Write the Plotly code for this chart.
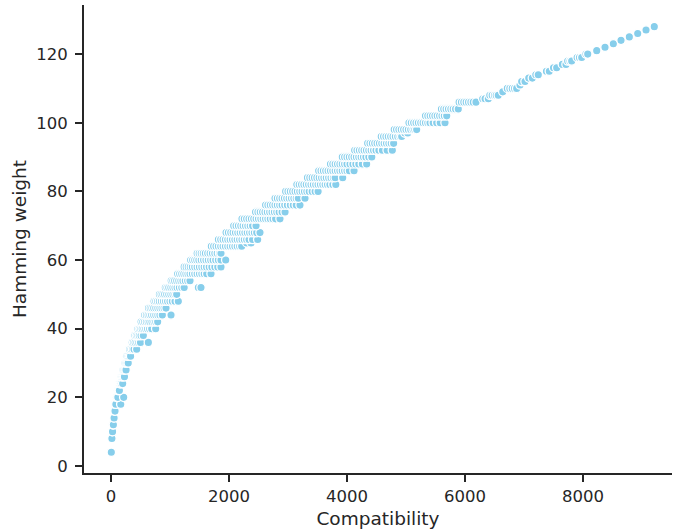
import plotly.graph_objects as go

# Hamming weight of each group of points
weights = [4, 8, 10, 12, 14, 16, 18, 20, 22, 24, 26, 28, 30, 32, 34, 36, 38, 40, 42, 44,
           46, 48, 50, 52, 54, 56, 58, 60, 62, 64, 65, 66, 68, 70, 72, 74, 76, 78, 80, 82,
           84, 86, 88, 90, 92, 94, 96, 97, 98, 100, 102, 104, 106, 107, 108, 109, 110, 111,
           112, 113, 114, 115, 116, 117, 118, 119, 120, 121, 122, 123, 124, 125, 126, 127, 128]

# Compatibility values observed for each weight (same order as `weights`)
compat_by_weight = [
    [5],
    [8, 15],
    [18, 26],
    [32, 40],
    [44, 52],
    [58, 68],
    [72, 82, 165],
    [92, 104, 116, 215],
    [118, 130, 142],
    [145, 160, 175, 198],
    [175, 192, 210, 228],
    [205, 222, 240, 255],
    [238, 256, 274, 292],
    [272, 292, 312, 332],
    [315, 340, 365, 390, 435],
    [360, 385, 410, 440, 470, 500, 633],
    [405, 430, 455, 480, 510, 548],
    [455, 480, 505, 530, 560, 590, 620, 655, 690, 757],
    [510, 540, 570, 600, 630, 660, 695, 730, 760, 791],
    [570, 600, 630, 660, 690, 725, 760, 795, 830, 870, 1017],
    [635, 665, 695, 725, 760, 795, 830, 865, 900, 932],
    [730, 760, 790, 820, 855, 890, 925, 960, 1000, 1040, 1085, 1141],
    [820, 850, 880, 910, 945, 980, 1015, 1050, 1085, 1113],
    [920, 950, 980, 1015, 1050, 1085, 1120, 1160, 1200, 1240, 1480, 1525],
    [1020, 1050, 1080, 1115, 1150, 1185, 1220, 1260, 1300, 1339],
    [1130, 1165, 1200, 1235, 1270, 1305, 1340, 1380, 1420, 1460, 1500, 1540, 1580, 1622, 1695],
    [1240, 1275, 1310, 1345, 1380, 1420, 1460, 1500, 1540, 1580, 1620, 1665, 1710, 1760, 1810, 1864],
    [1350, 1385, 1420, 1455, 1490, 1530, 1570, 1610, 1650, 1690, 1730, 1775, 1820, 1864, 1944],
    [1460, 1495, 1530, 1565, 1600, 1640, 1680, 1720, 1760, 1800, 1840, 1864],
    [1700, 1740, 1780, 1820, 1860, 1900, 1940, 1980, 2020, 2060, 2100, 2140, 2180, 2215],
    [2300, 2373],
    [1820, 1860, 1900, 1940, 1980, 2020, 2060, 2100, 2140, 2180, 2220, 2260, 2300, 2340, 2400, 2486],
    [1950, 1990, 2030, 2070, 2110, 2150, 2190, 2230, 2270, 2310, 2350, 2390, 2430, 2470, 2525],
    [2080, 2120, 2160, 2200, 2240, 2280, 2320, 2360, 2400, 2458],
    [2220, 2260, 2300, 2340, 2380, 2420, 2460, 2500, 2540, 2580, 2620, 2660, 2700, 2745, 2790, 2864],
    [2450, 2490, 2530, 2570, 2610, 2650, 2690, 2730, 2770, 2810, 2850, 2900, 2950],
    [2620, 2660, 2700, 2740, 2780, 2820, 2860, 2900, 2945, 2990, 3040, 3090, 3140, 3203],
    [2780, 2820, 2860, 2900, 2940, 2980, 3020, 3060, 3100, 3140, 3175, 3288],
    [2960, 3000, 3040, 3080, 3120, 3160, 3200, 3240, 3280, 3320, 3360, 3410, 3460, 3510],
    [3150, 3190, 3230, 3270, 3310, 3350, 3390, 3430, 3470, 3510, 3550, 3590, 3630, 3670, 3710, 3760, 3810],
    [3330, 3370, 3410, 3450, 3490, 3530, 3570, 3610, 3650, 3690, 3730, 3770, 3800, 3927],
    [3520, 3560, 3600, 3640, 3680, 3720, 3760, 3800, 3840, 3880, 3920, 3960, 4000, 4040, 4119],
    [3720, 3760, 3800, 3840, 3880, 3920, 3960, 4000, 4051, 4100, 4150, 4200, 4260, 4333],
    [3920, 3960, 4000, 4040, 4080, 4120, 4160, 4200, 4240, 4280, 4320, 4370, 4420],
    [4130, 4170, 4210, 4250, 4290, 4330, 4370, 4410, 4450, 4492, 4540, 4600, 4680, 4768],
    [4350, 4390, 4430, 4470, 4510, 4550, 4590, 4630, 4670, 4710, 4750, 4790],
    [4580, 4620, 4660, 4700, 4740, 4780, 4820, 4860, 4900, 4927],
    [4980, 5030],
    [4800, 4840, 4880, 4920, 4960, 5000, 5040, 5080, 5120, 5150, 5181],
    [5050, 5090, 5130, 5170, 5210, 5250, 5290, 5330, 5370, 5407, 5460, 5520, 5580, 5661],
    [5330, 5370, 5410, 5450, 5490, 5530, 5570, 5610, 5650, 5690],
    [5600, 5640, 5680, 5720, 5760, 5800, 5840, 5886],
    [5900, 5940, 5980, 6020, 6060, 6100, 6140, 6186],
    [6300, 6340, 6395],
    [6420, 6460, 6500, 6530, 6564],
    [6640],
    [6717, 6760, 6800, 6840, 6876],
    [6932],
    [6960, 7017],
    [7080, 7141],
    [7200, 7242],
    [7380, 7429],
    [7500, 7554],
    [7650, 7712],
    [7740, 7780, 7808],
    [7900, 7940, 7978],
    [8050, 8080],
    [8232],
    [8373],
    [8514],
    [8644],
    [8785],
    [8927],
    [9068],
    [9208],
]

x_vals, y_vals = [], []
for w, cs in zip(weights, compat_by_weight):
    for c in cs:
        x_vals.append(c)
        y_vals.append(w)

x_ticks = [0, 2000, 4000, 6000, 8000]
y_ticks = [0, 20, 40, 60, 80, 100, 120]

ink = "#262626"
font_family = "DejaVu Sans"

fig = go.Figure(
    go.Scatter(
        x=x_vals,
        y=y_vals,
        mode="markers",
        marker=dict(size=8.4, color="#87CEEB", line=dict(color="white", width=1.3)),
        showlegend=False,
        hoverinfo="skip",
    )
)

axis_common = dict(
    showline=True,
    linecolor=ink,
    linewidth=1.7,
    ticks="outside",
    ticklen=7,
    tickwidth=1.7,
    tickcolor=ink,
    showgrid=False,
    zeroline=False,
    automargin=False,
    tickfont=dict(family=font_family, size=16.5, color=ink),
    mirror=False,
)

fig.update_layout(
    width=673,
    height=529,
    margin=dict(l=84, r=1, t=5, b=56),
    paper_bgcolor="white",
    plot_bgcolor="white",
    font=dict(family=font_family, color=ink),
    xaxis=dict(
        range=[-458, 9508],
        tickvals=x_ticks,
        ticktext=[str(v) for v in x_ticks],
        title=dict(text="Compatibility", font=dict(family=font_family, size=18.5, color=ink), standoff=7),
        **axis_common,
    ),
    yaxis=dict(
        range=[-2.04, 134.3],
        tickvals=y_ticks,
        ticktext=[str(v) for v in y_ticks],
        title=dict(text="Hamming weight", font=dict(family=font_family, size=18.5, color=ink), standoff=5),
        ticklabelstandoff=4,
        **axis_common,
    ),
)

fig.write_html(
    "out.html",
    config={"displayModeBar": False},
    post_script="document.body.style.margin='0';document.body.style.overflow='hidden';",
)
